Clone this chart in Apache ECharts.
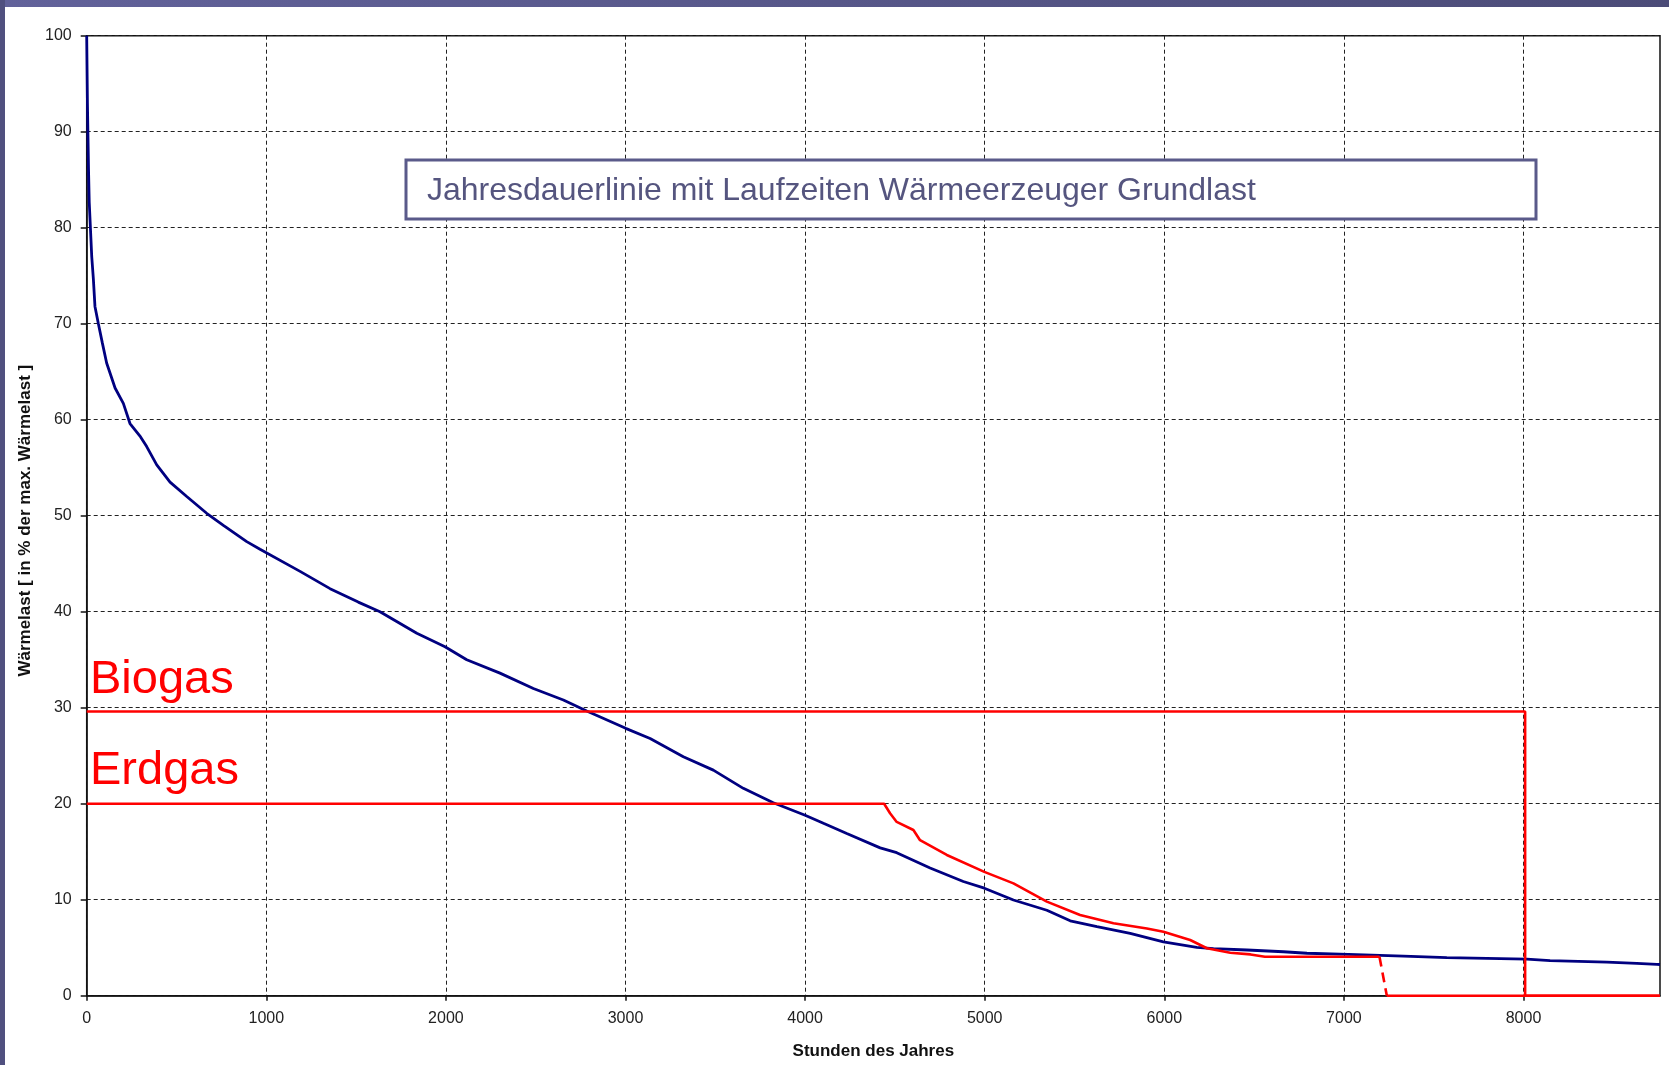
<!DOCTYPE html>
<html><head><meta charset="utf-8">
<script src="https://cdn.jsdelivr.net/npm/echarts@6/dist/echarts.min.js"></script>
<style>html,body{margin:0;padding:0;background:#fff}#c{width:1669px;height:1065px}</style>
</head><body><div id="c"></div>
<script>
// ---- data ----
const xTickValues = [0, 1000, 2000, 3000, 4000, 5000, 6000, 7000, 8000];
const loadHours  = [0, 3, 4, 9, 10, 13, 14, 18, 28, 37, 46, 65, 87, 111, 158, 204, 241, 300, 334, 390, 464, 557, 668, 761, 891, 965, 1188, 1355, 1512, 1633, 1838, 1995, 2116, 2301, 2487, 2654, 2784, 3001, 3137, 3322, 3489, 3656, 3823, 4000, 4102, 4232, 4418, 4510, 4696, 4881, 4998, 5160, 5346, 5476, 5625, 5810, 5995, 6181, 6274, 6460, 6663, 6794, 7025, 7332, 7573, 8019, 8148, 8464, 8631, 8743, 8760];
const loadValues = [100, 100, 93, 93, 86.2, 86.2, 82.7, 82.7, 77.0, 74.7, 71.8, 70.0, 68.0, 65.9, 63.3, 61.7, 59.6, 58.2, 57.2, 55.3, 53.5, 52.0, 50.25, 49.0, 47.3, 46.5, 44.2, 42.4, 41.0, 40.0, 37.75, 36.35, 35.0, 33.6, 32.0, 30.8, 29.65, 27.85, 26.8, 24.9, 23.5, 21.6, 20.1, 18.8, 17.96, 16.9, 15.4, 14.9, 13.3, 11.9, 11.2, 9.97, 8.9, 7.8, 7.2, 6.5, 5.6, 5.04, 4.9, 4.76, 4.58, 4.42, 4.31, 4.13, 3.96, 3.82, 3.65, 3.5, 3.37, 3.27, 3.25];
const erdgasHours  = [0, 4440, 4473, 4510, 4603, 4640, 4789, 4998, 5160, 5346, 5531, 5717, 5903, 5995, 6144, 6237, 6367, 6480, 6560, 7198];
const erdgasValues = [20, 20, 19.0, 18.1, 17.26, 16.2, 14.66, 12.9, 11.7, 9.8, 8.4, 7.54, 7.0, 6.67, 5.8, 4.94, 4.48, 4.3, 4.06, 4.06];
const erdgasDropHours  = [7198, 7239];
const erdgasDropValues = [4.06, 0];
const erdgasTailHours  = [7239, 8760];
const erdgasTailValues = [0, 0];
const biogasHours  = [0, 8009, 8009, 8760];
const biogasValues = [29.6, 29.6, 0, 0];

const pairs = (xs, ys) => xs.map((x, i) => [x, ys[i]]);
const FONT = "'Liberation Sans', Arial, sans-serif";

const chart = echarts.init(document.getElementById('c'), null, {renderer: 'canvas'});
chart.setOption({
  animation: false,
  backgroundColor: '#ffffff',
  grid: {left: 86.7, right: 9, top: 35.7, bottom: 69.3, show: true, borderColor: '#111', borderWidth: 1.5, backgroundColor: 'transparent'},
  xAxis: {
    type: 'value', min: 0, max: 8760, interval: 1000,
    name: 'Stunden des Jahres', nameLocation: 'middle', nameGap: 47,
    nameTextStyle: {fontFamily: FONT, fontSize: 17, fontWeight: 'bold', color: '#111'},
    axisLine: {show: true, lineStyle: {color: '#111', width: 1.5}},
    axisTick: {show: true, length: 5, customValues: xTickValues, lineStyle: {color: '#111', width: 1.5}},
    axisLabel: {customValues: xTickValues, margin: 15, fontFamily: FONT, fontSize: 16, color: '#222',
                formatter: v => String(v)},
    splitLine: {show: true, lineStyle: {color: '#222', width: 1, type: [4, 3]}}
  },
  yAxis: {
    type: 'value', min: 0, max: 100, interval: 10,
    name: 'Wärmelast [ in % der max. Wärmelast ]', nameLocation: 'middle', nameGap: 53,
    nameTextStyle: {fontFamily: FONT, fontSize: 17, fontWeight: 'bold', color: '#111', padding: [0, 10, 0, 0]},
    axisLine: {show: true, lineStyle: {color: '#111', width: 1.5}},
    axisTick: {show: true, length: 6, lineStyle: {color: '#111', width: 1.5}},
    axisLabel: {margin: 15, fontFamily: FONT, fontSize: 16, color: '#222', formatter: v => String(v)},
    splitLine: {show: true, lineStyle: {color: '#222', width: 1, type: [4, 3]}}
  },
  series: [
    {type: 'line', name: 'Last', data: pairs(loadHours, loadValues), showSymbol: false, z: 3,
     lineStyle: {color: '#000080', width: 2.8}},
    {type: 'line', name: 'Erdgas', data: pairs(erdgasHours, erdgasValues), showSymbol: false, z: 4,
     lineStyle: {color: '#ff0000', width: 2.6}},
    {type: 'line', name: 'Erdgas drop', data: pairs(erdgasDropHours, erdgasDropValues), showSymbol: false, z: 4,
     lineStyle: {color: '#ff0000', width: 2.6, type: [10, 6]}},
    {type: 'line', name: 'Erdgas tail', data: pairs(erdgasTailHours, erdgasTailValues), showSymbol: false, z: 4,
     lineStyle: {color: '#ff0000', width: 2.6}},
    {type: 'line', name: 'Biogas', data: pairs(biogasHours, biogasValues), showSymbol: false, z: 5,
     lineStyle: {color: '#ff0000', width: 2.6}}
  ],
  graphic: [
    {type: 'rect', z: 200, silent: true, shape: {x: 0, y: 0, width: 1669, height: 7},
     style: {fill: new echarts.graphic.LinearGradient(0, 0, 1, 0, [{offset: 0, color: '#62629a'}, {offset: 1, color: '#4c4c78'}])}},
    {type: 'rect', z: 200, silent: true, shape: {x: 0, y: 0, width: 5, height: 1065},
     style: {fill: '#50507f'}},
    {type: 'rect', z: 100, silent: true, shape: {x: 406, y: 160, width: 1130, height: 59},
     style: {fill: '#ffffff', stroke: '#5a5a8a', lineWidth: 3}},
    {type: 'text', z: 101, silent: true, x: 427, y: 191,
     style: {text: 'Jahresdauerlinie mit Laufzeiten Wärmeerzeuger Grundlast', font: '32px ' + FONT, fill: '#55557f', verticalAlign: 'middle', align: 'left'}},
    {type: 'text', z: 101, silent: true, x: 90, y: 680,
     style: {text: 'Biogas', font: '47px ' + FONT, fill: '#ff0000', verticalAlign: 'middle', align: 'left'}},
    {type: 'text', z: 101, silent: true, x: 90, y: 771,
     style: {text: 'Erdgas', font: '47px ' + FONT, fill: '#ff0000', verticalAlign: 'middle', align: 'left'}}
  ]
});
</script>
</body></html>
